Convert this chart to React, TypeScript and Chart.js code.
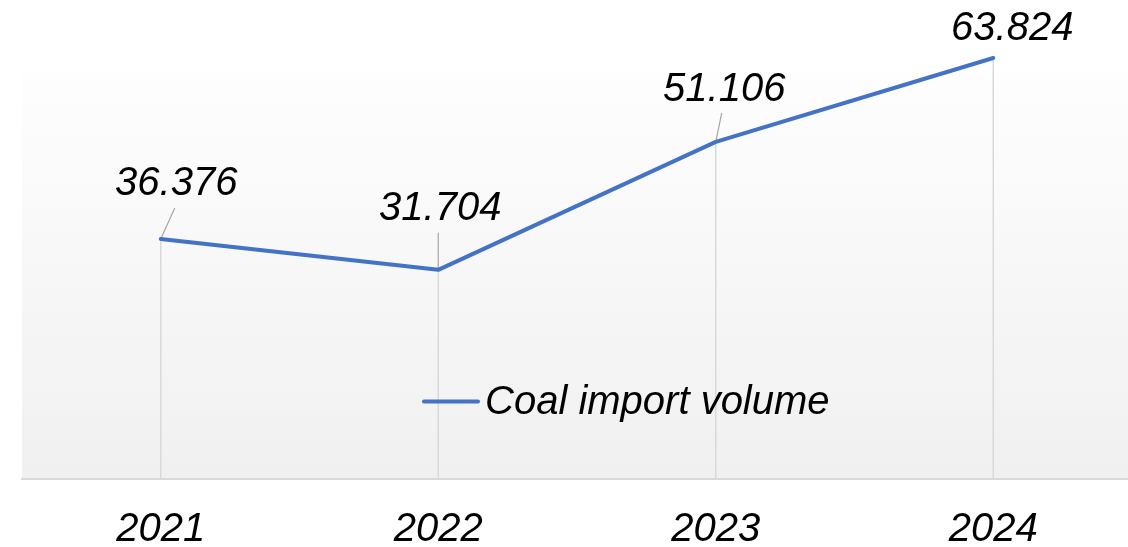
import React, { useEffect, useRef } from "react";
import { Chart, registerables } from "chart.js";

Chart.register(...registerables);

const categories = ["2021", "2022", "2023", "2024"];
const seriesName = "Coal import volume";
const importVolume = [36.376, 31.704, 51.106, 63.824];
const valueLabels = ["36.376", "31.704", "51.106", "63.824"];
// label placement relative to its point: [text centre dx, baseline dy]
const labelOffsets: [number, number][] = [
  [15.5, -44],
  [2, -50],
  [8.5, -41],
  [19, -17.5],
];
// leader line end relative to its point (null = none)
const leaderEnds: ([number, number] | null)[] = [[14, -31], [0, -37], [6, -29], null];

const FONT_FAMILY = '"Liberation Sans", Arial, sans-serif';
const FONT = `italic 40px ${FONT_FAMILY}`;
const LINE_COLOR = "#4472C4";

const decor = {
  id: "decor",
  beforeDraw(chart: any) {
    const { ctx, chartArea: a } = chart;
    const g = ctx.createLinearGradient(0, a.top, 0, a.bottom);
    g.addColorStop(0, "#fefefe");
    g.addColorStop(1, "#f0f0f0");
    ctx.save();
    ctx.fillStyle = g;
    ctx.fillRect(a.left, a.top, a.right - a.left, a.bottom - a.top);
    ctx.restore();
  },
  beforeDatasetsDraw(chart: any) {
    const { ctx } = chart;
    const meta = chart.getDatasetMeta(0);
    const base = chart.scales.y.getPixelForValue(0);
    ctx.save();
    ctx.strokeStyle = "#d9d9d9";
    ctx.lineWidth = 1.5;
    meta.data.forEach((pt: any) => {
      ctx.beginPath();
      ctx.moveTo(pt.x, pt.y);
      ctx.lineTo(pt.x, base);
      ctx.stroke();
    });
    ctx.strokeStyle = "#a6a6a6";
    ctx.lineWidth = 1.2;
    meta.data.forEach((pt: any, i: number) => {
      const e = leaderEnds[i];
      if (!e) return;
      ctx.beginPath();
      ctx.moveTo(pt.x, pt.y);
      ctx.lineTo(pt.x + e[0], pt.y + e[1]);
      ctx.stroke();
    });
    ctx.restore();
  },
  afterDatasetsDraw(chart: any) {
    const { ctx, chartArea: a } = chart;
    const meta = chart.getDatasetMeta(0);
    ctx.save();
    ctx.font = FONT;
    ctx.fillStyle = "#000000";
    ctx.textAlign = "center";
    ctx.textBaseline = "alphabetic";
    meta.data.forEach((pt: any, i: number) => {
      const o = labelOffsets[i];
      ctx.fillText(valueLabels[i], pt.x + o[0], pt.y + o[1]);
    });
    // legend
    const ly = a.bottom - 77.5;
    ctx.strokeStyle = LINE_COLOR;
    ctx.lineWidth = 4;
    ctx.lineCap = "round";
    ctx.beginPath();
    ctx.moveTo(a.left + 402, ly);
    ctx.lineTo(a.left + 456, ly);
    ctx.stroke();
    ctx.textAlign = "left";
    ctx.fillText(seriesName, a.left + 463, ly + 12);
    ctx.restore();
  },
};

export default function App() {
  const ref = useRef<HTMLCanvasElement | null>(null);
  useEffect(() => {
    if (!ref.current) return;
    const chart = new Chart(ref.current, {
      type: "line",
      data: {
        labels: categories,
        datasets: [
          {
            label: seriesName,
            data: importVolume,
            borderColor: LINE_COLOR,
            backgroundColor: LINE_COLOR,
            borderWidth: 4,
            pointRadius: 0,
            pointHoverRadius: 0,
            tension: 0,
            clip: false as any,
            borderCapStyle: "round",
            borderJoinStyle: "round",
            fill: false,
          },
        ],
      },
      options: {
        responsive: false,
        animation: false,
        devicePixelRatio: 1,
        layout: { padding: { left: 22, right: 2, top: 70, bottom: 0 } },
        plugins: { legend: { display: false }, tooltip: { enabled: false } },
        scales: {
          x: {
            type: "category",
            offset: true,
            grid: { display: false, drawTicks: false },
            border: { display: true, color: "#d9d9d9", width: 2 },
            ticks: {
              color: "#000000",
              font: { family: FONT_FAMILY, size: 40, style: "italic", lineHeight: 1 },
              padding: 31,
              maxRotation: 0,
              autoSkip: false,
            },
            afterFit: (scale: any) => {
              scale.height = 68;
            },
          },
          y: { display: false, min: 0, max: 62 },
        },
      },
      plugins: [decor],
    });
    return () => chart.destroy();
  }, []);
  return (
    <div
      style={{
        position: "fixed",
        left: 0,
        top: 0,
        width: 1128,
        height: 547,
        overflow: "hidden",
        background: "#ffffff",
      }}
    >
      <canvas ref={ref} width={1134} height={547} style={{ display: "block", width: 1134, height: 547 }} />
    </div>
  );
}
